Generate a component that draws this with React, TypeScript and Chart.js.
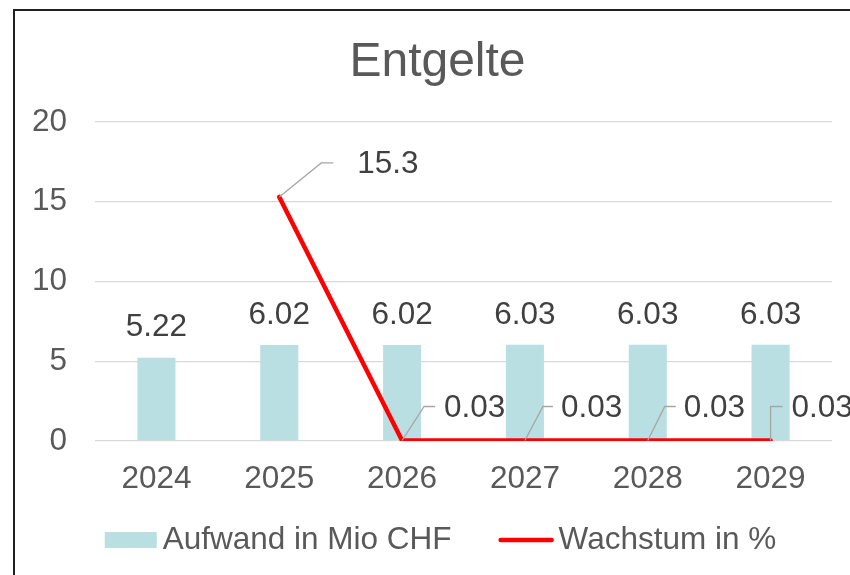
import React, { useEffect, useRef } from "react";
import { Chart, registerables } from "chart.js";

Chart.register(...registerables);

// ---- data ----
const chartTitle = "Entgelte";
const categories = ["2024", "2025", "2026", "2027", "2028", "2029"];
const aufwandLabel = "Aufwand in Mio CHF";
const aufwand = [5.22, 6.02, 6.02, 6.03, 6.03, 6.03];
const wachstumLabel = "Wachstum in %";
const wachstum: (number | null)[] = [null, 15.3, 0.03, 0.03, 0.03, 0.03];
const yMin = 0;
const yMax = 20;
const yStep = 5;

// ---- styles ----
const FONT = "'Liberation Sans', Arial, sans-serif";
const FS = 31.5;
const BAR_COLOR = "#B9DFE2";
const LINE_COLOR = "#FF0000";
const TEXT_COLOR = "#595959";
const LABEL_COLOR = "#404040";
const GRID_COLOR = "#D9D9D9";
const LEADER_COLOR = "#A6A6A6";

// manual placement of the growth labels relative to their point (leader lines)
const leaderPlacement: ({ elbowDx: number; endDx: number; textDx: number; dy: number } | null)[] = [
  null,
  { elbowDx: 42, endDx: 54, textDx: 78, dy: -34 },
  { elbowDx: 22, endDx: 33, textDx: 42, dy: -34 },
  { elbowDx: 18, endDx: 28, textDx: 36, dy: -34 },
  { elbowDx: 17, endDx: 28, textDx: 36, dy: -34 },
  { elbowDx: 0, endDx: 12, textDx: 21, dy: -34 },
];

const labelsPlugin = {
  id: "customLabels",
  afterDatasetsDraw(chart: any) {
    const ctx = chart.ctx as CanvasRenderingContext2D;
    ctx.save();
    ctx.font = `${FS}px ${FONT}`;
    ctx.fillStyle = LABEL_COLOR;
    ctx.textBaseline = "middle";

    // bar labels
    const barMeta = chart.getDatasetMeta(0);
    ctx.textAlign = "center";
    barMeta.data.forEach((bar: any, i: number) => {
      const v = aufwand[i];
      ctx.fillText(v.toFixed(2), bar.x, bar.y - 30);
    });

    // line labels with leader lines
    const lineMeta = chart.getDatasetMeta(1);
    ctx.textAlign = "left";
    lineMeta.data.forEach((pt: any, i: number) => {
      const v = wachstum[i];
      const p = leaderPlacement[i];
      if (v === null || v === undefined || !p) return;
      const ly = pt.y + p.dy;
      ctx.strokeStyle = LEADER_COLOR;
      ctx.lineWidth = 1.3;
      ctx.beginPath();
      ctx.moveTo(pt.x, pt.y);
      ctx.lineTo(pt.x + p.elbowDx, ly);
      ctx.lineTo(pt.x + p.endDx, ly);
      ctx.stroke();
      ctx.fillStyle = LABEL_COLOR;
      ctx.fillText(String(v), pt.x + p.textDx, ly + 1.5);
    });
    ctx.restore();
  },
  afterDraw(chart: any) {
    const ctx = chart.ctx as CanvasRenderingContext2D;
    ctx.save();
    // title
    ctx.font = `48px ${FONT}`;
    ctx.fillStyle = TEXT_COLOR;
    ctx.textAlign = "center";
    ctx.textBaseline = "alphabetic";
    ctx.fillText(chartTitle, chart.width / 2 - 3, 65);

    // legend
    ctx.font = `${FS}px ${FONT}`;
    ctx.textBaseline = "middle";
    ctx.textAlign = "left";
    const boxW = 52;
    const boxH = 16;
    const lineW = 55;
    const gap1 = 6;
    const gap2 = 5;
    const itemGap = 47;
    const t1 = ctx.measureText(aufwandLabel).width;
    const t2 = ctx.measureText(wachstumLabel).width;
    const total = boxW + gap1 + t1 + itemGap + lineW + gap2 + t2;
    let x = chart.width / 2 - total / 2;
    const cy = chart.height - 35;
    ctx.fillStyle = BAR_COLOR;
    ctx.fillRect(x, cy - boxH / 2, boxW, boxH);
    x += boxW + gap1;
    ctx.fillStyle = TEXT_COLOR;
    ctx.fillText(aufwandLabel, x, cy);
    x += t1 + itemGap;
    ctx.strokeStyle = LINE_COLOR;
    ctx.lineWidth = 4.5;
    ctx.lineCap = "round";
    ctx.beginPath();
    ctx.moveTo(x + 2, cy);
    ctx.lineTo(x + lineW - 2, cy);
    ctx.stroke();
    x += lineW + gap2;
    ctx.fillText(wachstumLabel, x, cy);
    ctx.restore();
  },
};

export default function App() {
  const canvasRef = useRef<HTMLCanvasElement | null>(null);

  useEffect(() => {
    if (!canvasRef.current) return;
    const chart = new Chart(canvasRef.current, {
      type: "bar",
      data: {
        labels: categories,
        datasets: [
          {
            type: "bar",
            label: aufwandLabel,
            data: aufwand,
            backgroundColor: BAR_COLOR,
            borderWidth: 0,
            barPercentage: 0.31,
            categoryPercentage: 1,
            order: 2,
          },
          {
            type: "line",
            label: wachstumLabel,
            data: wachstum,
            borderColor: LINE_COLOR,
            backgroundColor: LINE_COLOR,
            borderWidth: 4.5,
            borderCapStyle: "round",
            borderJoinStyle: "round",
            pointRadius: 0,
            pointHoverRadius: 0,
            tension: 0,
            spanGaps: false,
            order: 1,
          } as any,
        ],
      },
      options: {
        responsive: false,
        animation: false,
        events: [],
        layout: { padding: { left: 0, right: 34, top: 111, bottom: 0 } },
        plugins: {
          legend: { display: false },
          tooltip: { enabled: false },
          title: { display: false },
        },
        scales: {
          x: {
            grid: { display: false, drawTicks: false },
            border: { display: false },
            ticks: {
              color: TEXT_COLOR,
              font: { family: FONT, size: FS, lineHeight: 1.2 },
              padding: 19,
              maxRotation: 0,
              autoSkip: false,
            },
            afterFit: (scale: any) => {
              scale.height = 134;
            },
          },
          y: {
            min: yMin,
            max: yMax,
            grid: { color: GRID_COLOR, lineWidth: 1.3, drawTicks: false },
            border: { display: false },
            ticks: {
              stepSize: yStep,
              color: TEXT_COLOR,
              font: { family: FONT, size: FS, lineHeight: 1.2 },
              padding: 28,
            },
            afterFit: (scale: any) => {
              scale.width = 80;
            },
          },
        },
      },
      plugins: [labelsPlugin],
    });
    return () => chart.destroy();
  }, []);

  return (
    <div
      style={{
        position: "fixed",
        left: 0,
        top: 0,
        width: 850,
        height: 575,
        overflow: "hidden",
        background: "#ffffff",
      }}
    >
      <div
        style={{
          position: "absolute",
          left: 13,
          top: 9,
          border: "2px solid #1F1F1F",
          width: 851,
          height: 600,
          background: "#ffffff",
        }}
      >
        <canvas
          ref={canvasRef}
          width={851}
          height={564}
          style={{ display: "block", width: 851, height: 564 }}
        />
      </div>
    </div>
  );
}
